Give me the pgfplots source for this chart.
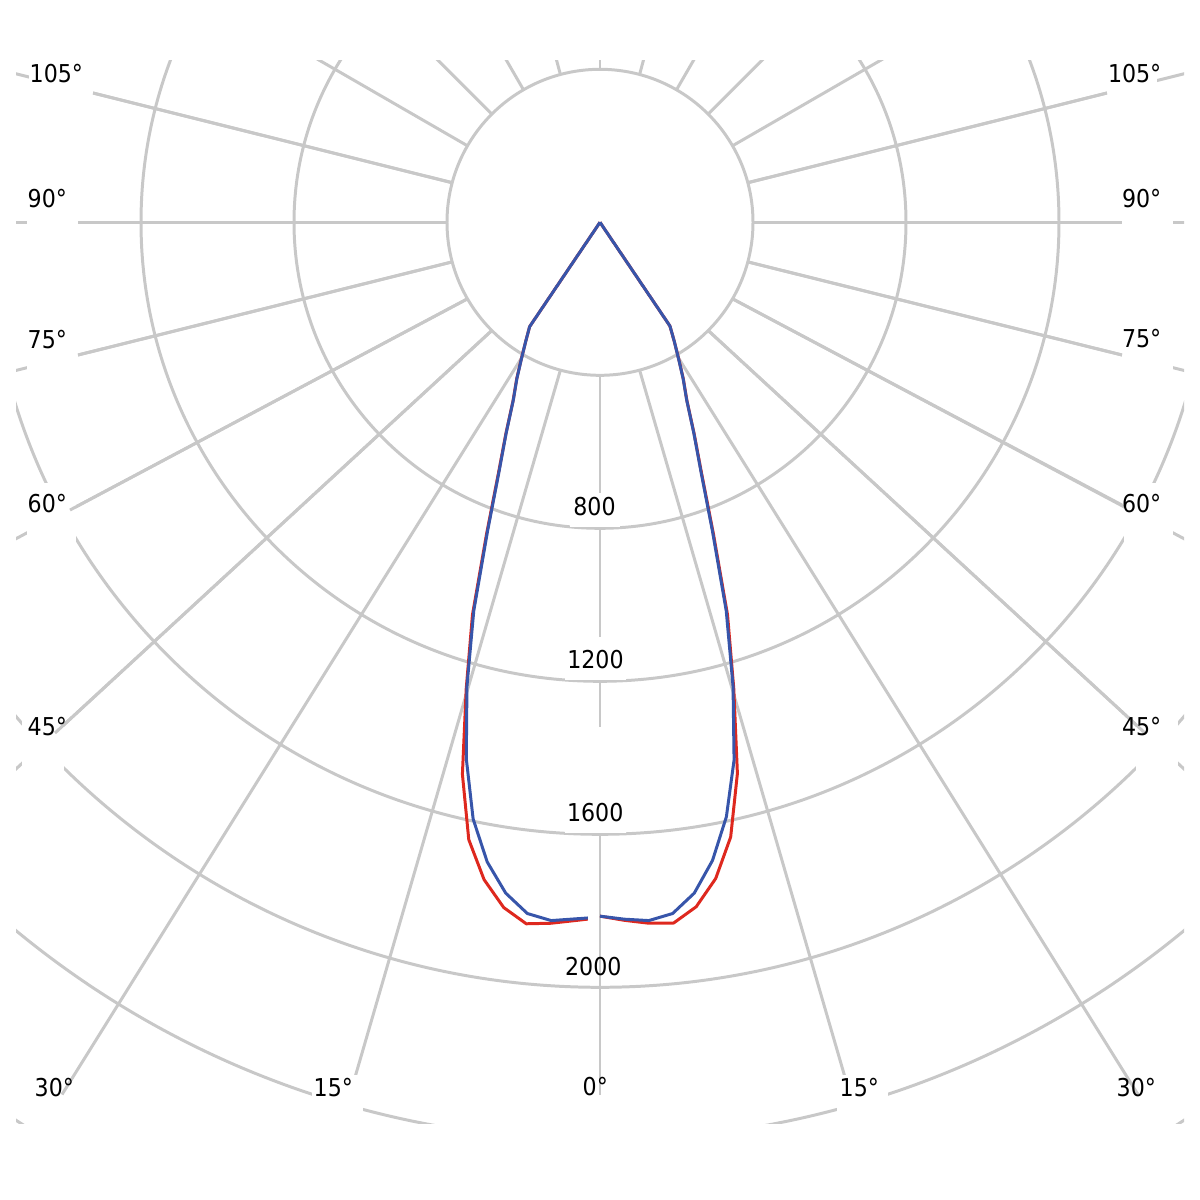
\documentclass[border=0pt]{standalone}
\usepackage{pgfplots}
\pgfplotsset{compat=1.18}
\usepackage{pgfplotstable}
\usepackage{fontspec}
\setmainfont{DejaVu Sans Condensed}
\usetikzlibrary{calc}

\definecolor{gridc}{RGB}{200,200,200}
\definecolor{redc}{RGB}{222,40,30}
\definecolor{bluec}{RGB}{55,85,170}

% right half (angle from nadir in degrees, intensity in cd)
\pgfplotstableread{
a red blue
0 1814 1814
2 1826 1823
4 1837 1830
6 1842 1817
8 1807 1771
10 1742 1694
12 1643 1589
14 1485 1449
16 1269 1262
18 1079 1068
20 867 860
22 710 706
24 605 603
26 518 517
28 464 463
30 411 410
32 366 366
34 327 327
36 0 0
}\rightdata

% left half
\pgfplotstableread{
a red blue
1 1822 1819
4 1837 1830
6 1844 1817
8 1809 1771
10 1745 1698
12 1650 1595
14 1487 1445
16 1269 1262
18 1079 1068
20 867 860
22 710 706
24 605 603
26 518 517
28 464 463
30 411 410
32 366 366
34 329 329
36 0 0
}\leftdata

\begin{document}
\begin{tikzpicture}
\begin{axis}[name=ax, width=12cm, height=12cm, scale only axis,
  xmin=0, xmax=1200, ymin=0, ymax=1200, y dir=reverse,
  hide axis, clip=false]

% ---- rings and full spokes (clipped) ----
\begin{scope}
\clip (axis cs:16,60.7) rectangle (axis cs:1184,1123);
\draw[gridc, line width=0.85pt] (axis cs:600,222.3) circle[radius=1.53cm];
\draw[gridc, line width=0.85pt] (axis cs:600,222.3) circle[radius=3.06cm];
\draw[gridc, line width=0.85pt] (axis cs:600,222.3) circle[radius=4.59cm];
\draw[gridc, line width=0.85pt] (axis cs:600,222.3) circle[radius=6.12cm];
\draw[gridc, line width=0.85pt] (axis cs:600,222.3) circle[radius=7.65cm];
\draw[gridc, line width=0.85pt] (axis cs:600,222.3) circle[radius=9.18cm];
\draw[gridc, line width=0.85pt] (axis cs:600,222.3) circle[radius=10.71cm];
% top spokes (radial)
\draw[gridc, line width=0.85pt] (axis cs:467.5,145.8) -- (axis cs:253.6,22.3);
\draw[gridc, line width=0.85pt] (axis cs:491.8,114.1) -- (axis cs:317.2,-60.5);
\draw[gridc, line width=0.85pt] (axis cs:523.5,89.8) -- (axis cs:400,-124);
\draw[gridc, line width=0.85pt] (axis cs:560.4,74.5) -- (axis cs:496.5,-164);
\draw[gridc, line width=0.85pt] (axis cs:600,69.3) -- (axis cs:600,-180);
\draw[gridc, line width=0.85pt] (axis cs:732.5,145.8) -- (axis cs:946.4,22.3);
\draw[gridc, line width=0.85pt] (axis cs:708.2,114.1) -- (axis cs:882.8,-60.5);
\draw[gridc, line width=0.85pt] (axis cs:676.5,89.8) -- (axis cs:800,-124);
\draw[gridc, line width=0.85pt] (axis cs:639.6,74.5) -- (axis cs:703.5,-164);
% side spokes extended to the edge
\draw[gridc, line width=0.85pt] (axis cs:452.2,182.7) -- ($(axis cs:452.2,182.7)!2!(axis cs:93,93)$);
\draw[gridc, line width=0.85pt] (axis cs:447,222.3) -- ($(axis cs:447,222.3)!2!(axis cs:78,222.3)$);
\draw[gridc, line width=0.85pt] (axis cs:452.2,261.9) -- ($(axis cs:452.2,261.9)!2!(axis cs:78,355)$);
\draw[gridc, line width=0.85pt] (axis cs:467.5,298.8) -- ($(axis cs:467.5,298.8)!2!(axis cs:70,510)$);
\draw[gridc, line width=0.85pt] (axis cs:491.8,330.5) -- ($(axis cs:491.8,330.5)!2!(axis cs:55,733)$);
\draw[gridc, line width=0.85pt] (axis cs:747.8,182.7) -- ($(axis cs:747.8,182.7)!2!(axis cs:1107,93)$);
\draw[gridc, line width=0.85pt] (axis cs:753,222.3) -- ($(axis cs:753,222.3)!2!(axis cs:1122,222.3)$);
\draw[gridc, line width=0.85pt] (axis cs:747.8,261.9) -- ($(axis cs:747.8,261.9)!2!(axis cs:1122,355)$);
\draw[gridc, line width=0.85pt] (axis cs:732.5,298.8) -- ($(axis cs:732.5,298.8)!2!(axis cs:1130,510)$);
\draw[gridc, line width=0.85pt] (axis cs:708.2,330.5) -- ($(axis cs:708.2,330.5)!2!(axis cs:1145,733)$);
% bottom spokes
\draw[gridc, line width=0.85pt] (axis cs:523.5,354.8) -- (axis cs:62,1094.5);
\draw[gridc, line width=0.85pt] (axis cs:560.4,370.1) -- (axis cs:350,1094.5);
\draw[gridc, line width=0.85pt] (axis cs:600,375.3) -- (axis cs:600,1094.5);
\draw[gridc, line width=0.85pt] (axis cs:639.6,370.1) -- (axis cs:850,1094.5);
\draw[gridc, line width=0.85pt] (axis cs:676.5,354.8) -- (axis cs:1138,1094.5);
\end{scope}

% ---- white label boxes ----
\fill[white] (axis cs:29,62) rectangle (axis cs:93,100);
\fill[white] (axis cs:27,184) rectangle (axis cs:78,232);
\fill[white] (axis cs:27,325) rectangle (axis cs:78,378);
\fill[white] (axis cs:27,483) rectangle (axis cs:76,550);
\fill[white] (axis cs:22,712) rectangle (axis cs:64,772);
\fill[white] (axis cs:312,1075) rectangle (axis cs:363,1123);
\fill[white] (axis cs:1107,62) rectangle (axis cs:1157,100);
\fill[white] (axis cs:1122,184) rectangle (axis cs:1173,232);
\fill[white] (axis cs:1122,325) rectangle (axis cs:1173,378);
\fill[white] (axis cs:1124,483) rectangle (axis cs:1173,550);
\fill[white] (axis cs:1136,712) rectangle (axis cs:1178,772);
\fill[white] (axis cs:837,1075) rectangle (axis cs:888,1123);
\fill[white] (axis cs:570,493) rectangle (axis cs:620,527);
\fill[white] (axis cs:565,637) rectangle (axis cs:626,680);
\fill[white] (axis cs:565,727) rectangle (axis cs:626,833);

% ---- spokes up to the labels, on top ----
\draw[gridc, line width=0.85pt] (axis cs:452.2,182.7) -- (axis cs:93,93);
\draw[gridc, line width=0.85pt] (axis cs:447,222.3) -- (axis cs:78,222.3);
\draw[gridc, line width=0.85pt] (axis cs:452.2,261.9) -- (axis cs:78,355);
\draw[gridc, line width=0.85pt] (axis cs:467.5,298.8) -- (axis cs:70,510);
\draw[gridc, line width=0.85pt] (axis cs:491.8,330.5) -- (axis cs:55,733);
\draw[gridc, line width=0.85pt] (axis cs:747.8,182.7) -- (axis cs:1107,93);
\draw[gridc, line width=0.85pt] (axis cs:753,222.3) -- (axis cs:1122,222.3);
\draw[gridc, line width=0.85pt] (axis cs:747.8,261.9) -- (axis cs:1122,355);
\draw[gridc, line width=0.85pt] (axis cs:732.5,298.8) -- (axis cs:1122,505);
\draw[gridc, line width=0.85pt] (axis cs:708.2,330.5) -- (axis cs:1145,733);

% ---- labels ----
\tikzset{lbl/.style={inner sep=0pt, font=\fontsize{7}{8}\selectfont}}
\node[lbl, anchor=base west] at (axis cs:29,82) {105°};
\node[lbl, anchor=base west] at (axis cs:27,207) {90°};
\node[lbl, anchor=base west] at (axis cs:27,348) {75°};
\node[lbl, anchor=base west] at (axis cs:27,512) {60°};
\node[lbl, anchor=base west] at (axis cs:27,735) {45°};
\node[lbl, anchor=base east] at (axis cs:1162,82) {105°};
\node[lbl, anchor=base east] at (axis cs:1162,207) {90°};
\node[lbl, anchor=base east] at (axis cs:1162,347) {75°};
\node[lbl, anchor=base east] at (axis cs:1162,512) {60°};
\node[lbl, anchor=base east] at (axis cs:1162,735) {45°};
\node[lbl, anchor=base west] at (axis cs:34,1096) {30°};
\node[lbl, anchor=base west] at (axis cs:313,1096) {15°};
\node[lbl, anchor=base west] at (axis cs:582,1095) {0°};
\node[lbl, anchor=base west] at (axis cs:839,1096) {15°};
\node[lbl, anchor=base west] at (axis cs:1116,1096) {30°};
\node[lbl, anchor=base] at (axis cs:594.5,515) {800};
\node[lbl, anchor=base] at (axis cs:595.5,668) {1200};
\node[lbl, anchor=base] at (axis cs:595.2,821.7) {1600};
\node[lbl, anchor=base] at (axis cs:593.3,975) {2000};

% ---- intensity curves ----
\addplot[redc, line width=0.85pt, line join=round, no markers] table[
  x expr={600+0.3825*\thisrow{red}*sin(\thisrow{a})},
  y expr={222.3+0.3825*\thisrow{red}*cos(\thisrow{a})}] {\rightdata};
\addplot[redc, line width=0.85pt, line join=round, no markers] table[
  x expr={600-0.3825*\thisrow{red}*sin(\thisrow{a})},
  y expr={222.3+0.3825*\thisrow{red}*cos(\thisrow{a})}] {\leftdata};
\addplot[bluec, line width=0.85pt, line join=round, no markers] table[
  x expr={600+0.3825*\thisrow{blue}*sin(\thisrow{a})},
  y expr={222.3+0.3825*\thisrow{blue}*cos(\thisrow{a})}] {\rightdata};
\addplot[bluec, line width=0.85pt, line join=round, no markers] table[
  x expr={600-0.3825*\thisrow{blue}*sin(\thisrow{a})},
  y expr={222.3+0.3825*\thisrow{blue}*cos(\thisrow{a})}] {\leftdata};
\end{axis}
\path (ax.south west) rectangle (ax.north east);
\end{tikzpicture}
\end{document}
